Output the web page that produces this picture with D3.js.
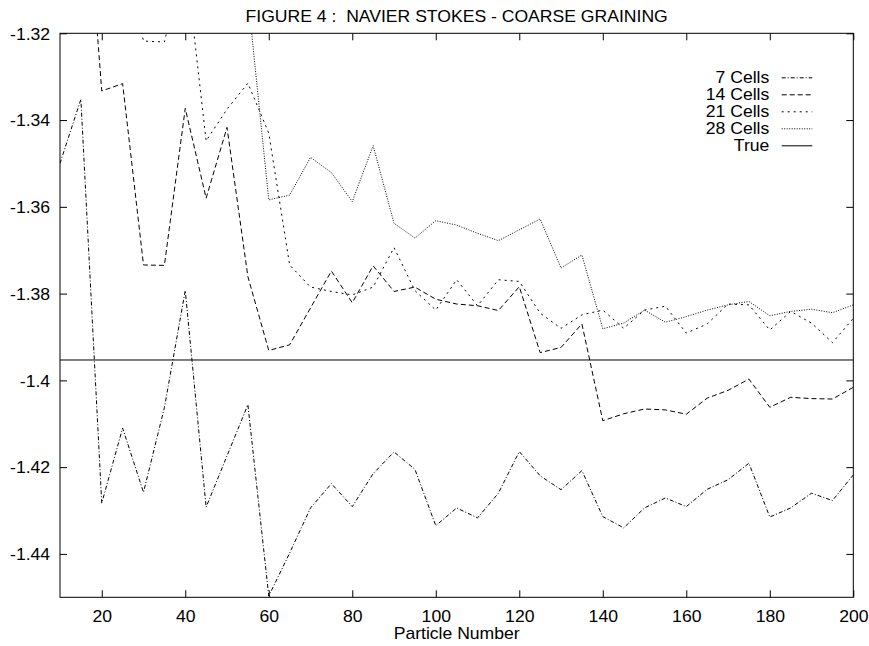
<!DOCTYPE html>
<html>
<head>
<meta charset="utf-8">
<script src="https://cdn.jsdelivr.net/npm/d3@7"></script>
<style>
  html, body { margin: 0; padding: 0; background: #fff; }
  svg { display: block; }
  text { font-family: "Liberation Sans", Arial, Helvetica, sans-serif; fill: #000; }
</style>
</head>
<body>
<svg id="chart" width="869" height="646"></svg>
<script>
// Particle counts along the x axis
const particles = [10, 15, 20, 25, 30, 35, 40, 45, 50, 55, 60, 65, 70, 75, 80, 85, 90, 95, 100,
  105, 110, 115, 120, 125, 130, 135, 140, 145, 150, 155, 160, 165, 170, 175, 180, 185, 190, 195, 200];

// Estimated values for each coarse-graining level
const cells7 = [-1.3500, -1.3352, -1.4283, -1.4110, -1.4258, -1.4063, -1.3793, -1.4292, -1.4174, -1.4056,
  -1.4497, -1.4398, -1.4294, -1.4238, -1.4291, -1.4215, -1.4165, -1.4205, -1.4335, -1.4294,
  -1.4317, -1.4260, -1.4164, -1.4220, -1.4252, -1.4208, -1.4314, -1.4340, -1.4294, -1.4271,
  -1.4291, -1.4251, -1.4229, -1.4191, -1.4315, -1.4294, -1.4260, -1.4277, -1.4218];

const cells14 = [-1.2620, -1.2700, -1.3333, -1.3316, -1.3734, -1.3735, -1.3373, -1.3580, -1.3417, -1.3761,
  -1.3931, -1.3918, -1.3833, -1.3748, -1.3821, -1.3736, -1.3795, -1.3785, -1.3813, -1.3824,
  -1.3828, -1.3839, -1.3784, -1.3936, -1.3924, -1.3870, -1.4093, -1.4077, -1.4066, -1.4068,
  -1.4078, -1.4041, -1.4023, -1.3997, -1.4062, -1.4039, -1.4042, -1.4043, -1.4016];

const cells21 = [-1.2800, -1.2750, -1.2850, -1.3000, -1.3218, -1.3220, -1.3024, -1.3448, -1.3375, -1.3315,
  -1.3430, -1.3734, -1.3785, -1.3795, -1.3803, -1.3785, -1.3694, -1.3793, -1.3838, -1.3768,
  -1.3828, -1.3768, -1.3772, -1.3845, -1.3880, -1.3849, -1.3838, -1.3880, -1.3838, -1.3829,
  -1.3891, -1.3870, -1.3824, -1.3826, -1.3884, -1.3841, -1.3868, -1.3913, -1.3857];

const cells28 = [-1.2700, -1.2600, -1.2800, -1.2900, -1.2800, -1.2900, -1.2850, -1.3000, -1.2950, -1.3115,
  -1.3584, -1.3573, -1.3486, -1.3521, -1.3588, -1.3459, -1.3638, -1.3672, -1.3632, -1.3642,
  -1.3661, -1.3678, -1.3653, -1.3628, -1.3741, -1.3711, -1.3881, -1.3868, -1.3838, -1.3866,
  -1.3853, -1.3838, -1.3826, -1.3818, -1.3851, -1.3841, -1.3836, -1.3844, -1.3826];

const trueValue = -1.3953;

const seriesNames = ["7 Cells", "14 Cells", "21 Cells", "28 Cells", "True"];
const xTicks = [20, 40, 60, 80, 100, 120, 140, 160, 180, 200];
const yTicks = [-1.32, -1.34, -1.36, -1.38, -1.40, -1.42, -1.44];

const titleText = "FIGURE 4 :  NAVIER STOKES - COARSE GRAINING";
const xLabel = "Particle Number";

// Layout
const W = 869, H = 646;
const margin = { left: 60, right: W - 853.3, top: 33.3, bottom: H - 597.3 };
const FONT = 16, STRETCH = 1.1;

const svg = d3.select("#chart");

const x = d3.scaleLinear().domain([10, 200]).range([margin.left, W - margin.right]);
const y = d3.scaleLinear().domain([-1.45, -1.32]).range([H - margin.bottom, margin.top]);

const fmtY = d => String(+d.toFixed(2));

svg.append("defs").append("clipPath").attr("id", "plot-clip")
  .append("rect")
  .attr("x", x.range()[0]).attr("y", y.range()[1])
  .attr("width", x.range()[1] - x.range()[0])
  .attr("height", y.range()[0] - y.range()[1]);

// Axes: ticks point inward on all four sides
function styleAxis(g) {
  g.select(".domain").remove();
  g.selectAll("line").attr("stroke", "#000").attr("stroke-width", 1);
  g.selectAll("text")
    .attr("font-size", FONT)
    .attr("font-family", '"Liberation Sans", Arial, Helvetica, sans-serif')
    .attr("fill", "#000");
}

const xAxis = svg.append("g")
  .attr("transform", `translate(0,${y.range()[0]})`)
  .call(d3.axisBottom(x).tickValues(xTicks).tickSizeInner(-7).tickSizeOuter(0).tickPadding(13).tickFormat(d => String(d)))
  .call(styleAxis);
xAxis.selectAll("text").attr("transform", `scale(${STRETCH},1)`);

svg.append("g")
  .attr("transform", `translate(0,${y.range()[1]})`)
  .call(d3.axisTop(x).tickValues(xTicks).tickSizeInner(-7).tickSizeOuter(0).tickFormat(""))
  .call(styleAxis);

const yAxis = svg.append("g")
  .attr("transform", `translate(${x.range()[0]},0)`)
  .call(d3.axisLeft(y).tickValues(yTicks).tickSizeInner(-7).tickSizeOuter(0).tickPadding(9).tickFormat(fmtY))
  .call(styleAxis);
yAxis.selectAll("text").attr("transform", `scale(${STRETCH},1)`).attr("dy", "0.36em");

svg.append("g")
  .attr("transform", `translate(${x.range()[1]},0)`)
  .call(d3.axisRight(y).tickValues(yTicks).tickSizeInner(-7).tickSizeOuter(0).tickFormat(""))
  .call(styleAxis);

// Frame
svg.append("rect")
  .attr("x", x.range()[0]).attr("y", y.range()[1])
  .attr("width", x.range()[1] - x.range()[0])
  .attr("height", y.range()[0] - y.range()[1])
  .attr("fill", "none").attr("stroke", "#000").attr("stroke-width", 1);

// Title and axis label
function stretchedText(px, py, str, anchor) {
  return svg.append("text")
    .attr("transform", `translate(${px},${py}) scale(${STRETCH},1)`)
    .attr("text-anchor", anchor)
    .attr("font-size", FONT)
    .attr("xml:space", "preserve")
    .style("white-space", "pre")
    .text(str);
}
const cx = (x.range()[0] + x.range()[1]) / 2;
stretchedText(cx, 21.7, titleText, "middle");
stretchedText(cx, 638.5, xLabel, "middle");

// Series
const dashes = ["4,2,1,2", "5,3", "2,4", "1,1.5", null];
const values = [cells7, cells14, cells21, cells28];

const line = d3.line().x(d => x(d[0])).y(d => y(d[1]));
const plot = svg.append("g").attr("clip-path", "url(#plot-clip)");

values.forEach((vals, i) => {
  plot.append("path")
    .datum(particles.map((p, k) => [p, vals[k]]))
    .attr("d", line)
    .attr("fill", "none")
    .attr("stroke", "#000")
    .attr("stroke-width", 1)
    .attr("stroke-dasharray", dashes[i]);
});

plot.append("path")
  .datum([[10, trueValue], [200, trueValue]])
  .attr("d", line)
  .attr("fill", "none")
  .attr("stroke", "#000")
  .attr("stroke-width", 1);

// Legend
const legend = svg.append("g");
seriesNames.forEach((name, i) => {
  const by = 83.3 + i * 17;
  const t = legend.append("text")
    .attr("transform", `translate(769.3,${by}) scale(${STRETCH},1)`)
    .attr("text-anchor", "end")
    .attr("font-size", FONT)
    .text(name);
  legend.append("line")
    .attr("x1", 781.7).attr("x2", 812.3)
    .attr("y1", by - 5.5).attr("y2", by - 5.5)
    .attr("stroke", "#000").attr("stroke-width", 1)
    .attr("stroke-dasharray", dashes[i]);
});
</script>
</body>
</html>
